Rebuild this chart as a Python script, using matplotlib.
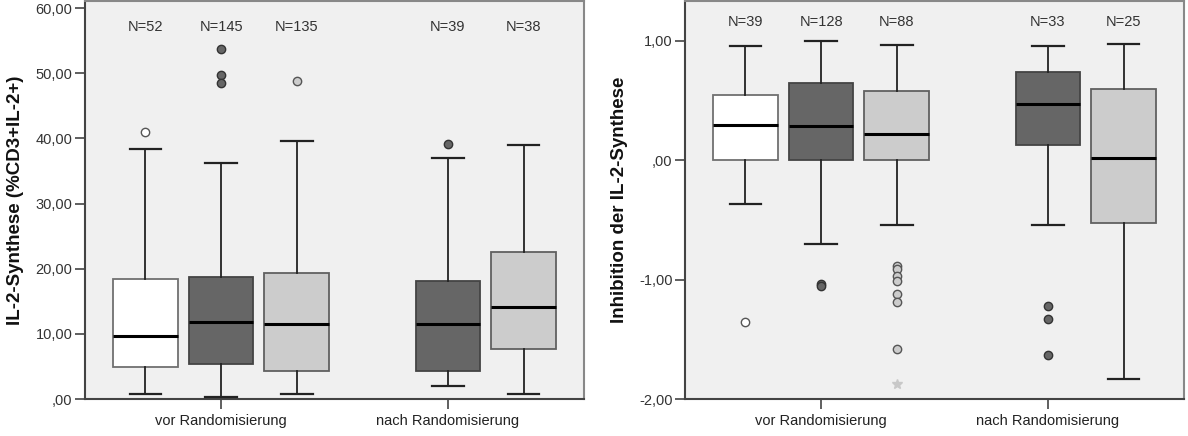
import matplotlib.pyplot as plt
from matplotlib.transforms import blended_transform_factory

plt.rcParams['font.family'] = ['Liberation Sans', 'DejaVu Sans']

groups = ['vor Randomisierung', 'nach Randomisierung']
cluster_colors = ['#ffffff', '#666666', '#cccccc']
flier_edges = ['#555555', '#333333', '#555555']
box_edges = ['#707070', '#444444', '#606060']

# box order: (group, cluster)
box_group = [0, 0, 0, 1, 1]
box_cluster = [0, 1, 2, 1, 2]

# left panel: IL-2-Synthese (%CD3+IL-2+)
il2_n = [52, 145, 135, 39, 38]
il2_whislo = [0.77, 0.26, 0.77, 1.94, 0.77]
il2_q1 = [4.96, 5.32, 4.35, 4.30, 7.62]
il2_med = [9.72, 11.87, 11.56, 11.51, 14.12]
il2_q3 = [18.47, 18.77, 19.28, 18.06, 22.61]
il2_whishi = [38.36, 36.21, 39.54, 36.93, 38.93]
il2_fliers = [[41.0], [53.7, 49.8, 48.5], [48.75], [39.2], []]
il2_extremes = [[], [], [], [], []]

# right panel: Inhibition der IL-2-Synthese
inh_n = [39, 128, 88, 33, 25]
inh_whislo = [-0.37, -0.70, -0.54, -0.54, -1.83]
inh_q1 = [0.0, 0.0, 0.0, 0.128, -0.529]
inh_med = [0.292, 0.290, 0.220, 0.468, 0.019]
inh_q3 = [0.549, 0.652, 0.577, 0.738, 0.596]
inh_whishi = [0.961, 1.0, 0.969, 0.955, 0.978]
inh_fliers = [[-1.354], [-1.04, -1.05],
              [-0.886, -0.908, -0.969, -1.011, -1.123, -1.187, -1.582],
              [-1.220, -1.331, -1.632], []]
inh_extremes = [[], [], [-1.875], [], []]


def fmt(v):
    s = ('%.2f' % v).replace('.', ',')
    # SPSS drops the leading zero: ",00"
    return s.replace('0,', ',', 1) if abs(v) < 1 else s


def draw_panel(ax, n, lo, q1, med, q3, hi, fliers, extremes, ylabel, yticks, ylim, n_y):
    ax.set_facecolor('#f0f0f0')
    step = 1 / 3
    tr = blended_transform_factory(ax.transData, ax.transAxes)
    for i in range(len(n)):
        pos = box_group[i] + (box_cluster[i] - 1) * step
        c = box_cluster[i]
        stats = [dict(med=med[i], q1=q1[i], q3=q3[i], whislo=lo[i], whishi=hi[i], fliers=fliers[i])]
        ax.bxp(stats, positions=[pos], widths=0.285, patch_artist=True,
               boxprops=dict(facecolor=cluster_colors[c], edgecolor=box_edges[c], linewidth=1.3),
               medianprops=dict(color='black', linewidth=2.2),
               whiskerprops=dict(color='#222222', linewidth=1.3),
               capprops=dict(color='#222222', linewidth=1.6),
               capwidths=0.14,
               flierprops=dict(marker='o', markersize=6, markerfacecolor=cluster_colors[c],
                               markeredgecolor=flier_edges[c], markeredgewidth=1.0),
               manage_ticks=False, zorder=3)
        if extremes[i]:
            ax.plot([pos] * len(extremes[i]), extremes[i], marker='*', linestyle='none',
                    color='#c8c8c8', markersize=7, zorder=3)
        ax.text(pos, n_y, 'N=%d' % n[i], transform=tr, ha='center', va='center',
                fontsize=10.5, color='#333333')

    ax.set_xlim(-0.6, 1.6)
    ax.set_ylim(*ylim)
    ax.set_xticks([0, 1])
    ax.set_xticklabels(groups, fontsize=10.5, color='#222222')
    ax.set_yticks(yticks)
    ax.set_yticklabels([fmt(v) for v in yticks], fontsize=10.5, color='#333333')
    ax.tick_params(axis='both', direction='out', length=7, width=1.2, color='#444444', pad=2)
    ax.tick_params(axis='x', pad=4)
    for side in ['left', 'bottom']:
        ax.spines[side].set_color('#444444')
        ax.spines[side].set_linewidth(1.5)
    for side in ['top', 'right']:
        ax.spines[side].set_color('#888888')
        ax.spines[side].set_linewidth(1.5)
    ax.set_ylabel(ylabel, fontsize=13.5, fontweight='bold', color='#111111')


fig = plt.figure(figsize=(11.88, 4.36), dpi=100)
ax1 = fig.add_axes([85 / 1188, 37 / 436, 499 / 1188, 398 / 436])
ax2 = fig.add_axes([685 / 1188, 37 / 436, 499 / 1188, 398 / 436])

draw_panel(ax1, il2_n, il2_whislo, il2_q1, il2_med, il2_q3, il2_whishi, il2_fliers, il2_extremes,
           'IL-2-Synthese (%CD3+IL-2+)', [0, 10, 20, 30, 40, 50, 60], (0, 61.1), 0.935)
draw_panel(ax2, inh_n, inh_whislo, inh_q1, inh_med, inh_q3, inh_whishi, inh_fliers, inh_extremes,
           'Inhibition der IL-2-Synthese', [-2, -1, 0, 1], (-2, 1.335), 0.948)

ax1.yaxis.set_label_coords(-61 / 499, 0.5)
ax2.yaxis.set_label_coords(-57 / 499, 0.5)

fig.savefig('out.png', dpi=100, facecolor='white')
